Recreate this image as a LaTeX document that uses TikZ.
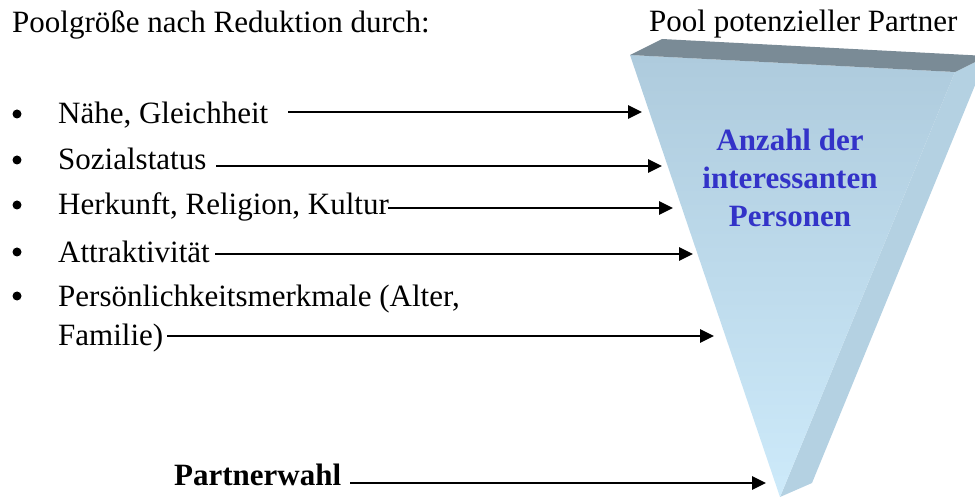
\documentclass[tikz,border=0pt]{standalone}
\usepackage{fontspec}
\setmainfont{Liberation Serif}
\usetikzlibrary{arrows.meta}
\definecolor{topgray}{RGB}{122,139,150}
\definecolor{frontA}{RGB}{174,203,221}
\definecolor{frontB}{RGB}{205,234,250}
\definecolor{sideC}{RGB}{180,209,226}
\definecolor{txtblue}{RGB}{51,51,200}
\begin{document}
\begin{tikzpicture}[x=1pt,y=-1pt,
  txt/.style={inner sep=0pt,anchor=base west,font=\fontsize{31}{36}\selectfont},
  btxt/.style={txt,font=\fontsize{31}{36}\selectfont\bfseries},
  bul/.style={circle,fill=black,inner sep=0pt,minimum size=9pt},
  ptr/.style={line width=2.8pt,-{Triangle[length=14pt,width=13pt]}}]
\useasboundingbox (0,0) rectangle (975,497);
\begin{scope}
\clip (0,0) rectangle (975,497);
% right side face
\fill[sideC] (955,72) -- (987,56) -- (812,483) -- (780,497) -- cycle;
% front face
\shade[top color=frontA,bottom color=frontB] (630,55) -- (955,72) -- (780,497) -- cycle;
% top face
\fill[topgray] (630,55) -- (662,39) -- (987,56) -- (955,72) -- cycle;
\end{scope}
% tip coordinates
\coordinate (t1) at (642,112);
\coordinate (t2) at (662,166);
\coordinate (t3) at (673,208);
\coordinate (t4) at (693,254);
\coordinate (t5) at (714,336);
\coordinate (t6) at (766,483);
% texts
\node[txt] (title) at (12,33) {Poolgröße nach Reduktion durch:};
\node[txt] (pool) at (649,32) {Pool potenzieller Partner};
\node[bul] (b1) at (17,114) {};
\node[bul] (b2) at (17,160) {};
\node[bul] (b3) at (17,205) {};
\node[bul] (b4) at (17,252) {};
\node[bul] (b5) at (17,296) {};
\node[txt] (i1) at (58,124) {Nähe, Gleichheit};
\node[txt] (i2) at (58,170) {Sozialstatus};
\node[txt] (i3) at (58,215) {Herkunft, Religion, Kultur};
\node[txt] (i4) at (58,262) {Attraktivität};
\node[txt] (i5) at (58,306) {Persönlichkeitsmerkmale (Alter,};
\node[txt] (i6) at (58,345) {Familie)};
\node[btxt] (pw) at (174,485) {Partnerwahl};
\node[inner sep=0pt,align=center,text=txtblue,font=\fontsize{31}{38}\selectfont\bfseries] (anz) at (790,178) {Anzahl der\\interessanten\\Personen};
% arrows
\draw[ptr] (288,112) -- (t1);
\draw[ptr] (216,166) -- (t2);
\draw[ptr] (388,208) -- (t3);
\draw[ptr] (215,254) -- (t4);
\draw[ptr] (167,336) -- (t5);
\draw[ptr] (350,483) -- (t6);
\end{tikzpicture}
\end{document}
